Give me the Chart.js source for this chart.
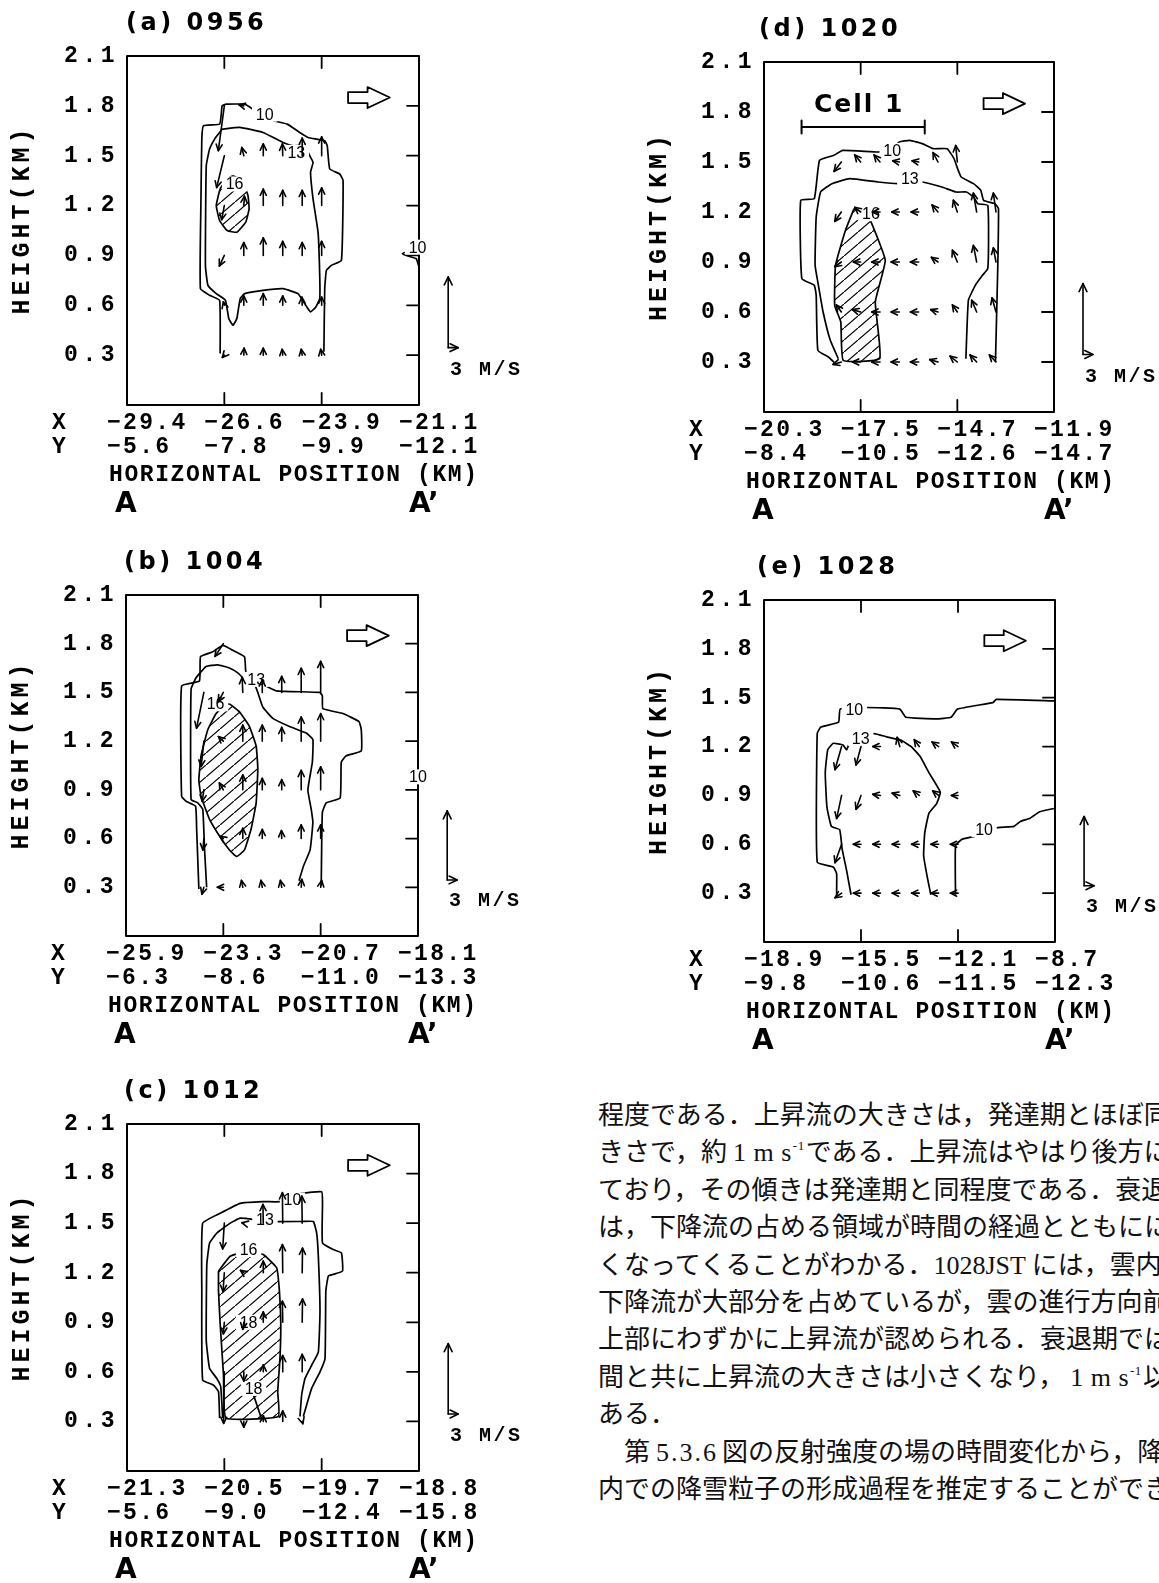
<!DOCTYPE html>
<html lang="ja">
<head>
<meta charset="utf-8">
<title>Vertical cross sections A–A'</title>
<script src="https://cdn.jsdelivr.net/npm/chart.js@4.4.1/dist/chart.umd.min.js"></script>
<style>
  html, body { margin: 0; padding: 0; background: #fff; }
  body { width: 1159px; height: 1583px; position: relative; overflow: hidden; }
  canvas { position: absolute; }
  #prose {
    position: absolute; left: 598px; top: 1094px; width: 561px; overflow: hidden;
    font-family: "Noto Sans CJK JP", sans-serif; font-size: 26px; line-height: 37.4px;
    color: #111; white-space: nowrap;
  }
  #prose div { height: 37.4px; }
  .lat { font-family: "Liberation Serif", serif; }
  .ms { margin: 0 1px 0 6px; letter-spacing: 0.5px; }
  .num { letter-spacing: 2px; margin: 0 4px 0 6px; }
  .ex { position: relative; top: -11px; font-size: 13px; margin-left: 1px; }
</style>
</head>
<body>
<div id="prose">
  <div>程度である．上昇流の大きさは，発達期とほぼ同</div>
  <div>きさで，約<span class="lat ms">1 m s<span class="ex">-1</span></span>である．上昇流はやはり後方に</div>
  <div>ており，その傾きは発達期と同程度である．衰退</div>
  <div>は，下降流の占める領域が時間の経過とともにに</div>
  <div>くなってくることがわかる．<span class="lat">1028JST</span> には，雲内</div>
  <div>下降流が大部分を占めているが，雲の進行方向前</div>
  <div>上部にわずかに上昇流が認められる．衰退期では</div>
  <div>間と共に上昇流の大きさは小さくなり，<span class="lat ms">1 m s<span class="ex">-1</span></span>以</div>
  <div>ある．</div>
  <div>　第<span class="lat num">5.3.6</span>図の反射強度の場の時間変化から，降</div>
  <div>内での降雪粒子の形成過程を推定することができ</div>
</div>
<script>
// ---- shared axes: distance along the section (km) and height (km) ----
const xTicks = [0, 3.5, 7.0, 10.5];
const yTicks = [0.3, 0.6, 0.9, 1.2, 1.5, 1.8, 2.1];

// ---- (a) 0956 ----
const aTitle = '(a) 0956';
const aRowX = ['−29.4', '−26.6', '−23.9', '−21.1'];
const aRowY = ['−5.6', '−7.8', '−9.9', '−12.1'];
const aC10 = [[7.08,0.32],[7.11,0.70],[7.17,0.81],[7.35,0.84],[7.71,0.87],[7.77,1.35],[7.65,1.39],[7.29,1.42],[7.20,1.56],[7.11,1.59],[6.51,1.61],[6.21,1.64],[5.76,1.69],[5.27,1.71],[5.01,1.73],[4.53,1.78],[4.23,1.81],[3.57,1.81],[3.42,1.80],[3.39,1.75],[3.33,1.69],[2.75,1.68],[2.69,1.60],[2.66,1.24],[2.64,0.70],[2.97,0.66],[3.33,0.63],[3.35,0.31]];
const aC10edge = [[10.5,0.95],[9.9,0.91],[10.4,0.88],[10.5,0.83]];
const aC13 = [[3.42,1.66],[4.05,1.67],[4.89,1.64],[5.61,1.58],[5.97,1.56],[6.39,1.56],[6.57,1.50],[6.69,1.46],[6.60,1.40],[6.69,1.24],[6.87,1.04],[6.93,0.78],[6.93,0.64],[6.79,0.59],[6.60,0.56],[6.39,0.61],[6.15,0.67],[5.61,0.70],[4.89,0.69],[4.23,0.67],[4.07,0.64],[3.95,0.52],[3.81,0.48],[3.66,0.52],[3.54,0.63],[3.21,0.67],[2.91,0.72],[2.82,0.84],[2.85,1.44],[2.97,1.54],[3.15,1.60],[3.33,1.64],[3.42,1.66]];
const aH16 = [[3.81,1.38],[4.15,1.35],[4.35,1.26],[4.39,1.18],[4.27,1.10],[3.95,1.04],[3.60,1.05],[3.33,1.11],[3.21,1.20],[3.35,1.30],[3.60,1.36],[3.81,1.38]];
// wind vectors: [x km, z km, u m/s, w m/s]
const aVec = [
  [3.5,1.8,-1.8,-1.9],[4.2,1.8,-1.5,0.05],
  [3.5,1.5,-2.3,-1.35],[4.2,1.5,-0.6,0.35],[4.9,1.5,0,0.5],[5.6,1.5,-0.1,0.5],[6.3,1.5,0,0.75],[7.0,1.5,0,0.8],
  [3.5,1.2,-0.8,-0.6],[4.2,1.2,0.2,0.4],[4.9,1.2,0,0.7],[5.6,1.2,0,0.65],[6.3,1.2,0,0.65],[7.0,1.2,0,0.75],
  [3.5,0.9,-1.5,-0.45],[4.2,0.9,0,0.55],[4.9,0.9,0,0.75],[5.6,0.9,0,0.6],[6.3,0.9,0,0.55],[7.0,0.9,0,0.6],
  [3.5,0.6,-0.3,0.15],[4.2,0.6,0,0.4],[4.9,0.6,0,0.5],[5.6,0.6,0,0.4],[6.3,0.6,-0.1,0.35],[7.0,0.6,0,0.35],
  [3.5,0.3,-0.6,-0.1],[4.2,0.3,0.1,0.3],[4.9,0.3,0,0.3],[5.6,0.3,-0.2,0.25],[6.3,0.3,-0.3,0.25],[7.0,0.3,-0.3,0.25]
];
const aLabels = [['10',4.95,1.75],['13',6.09,1.52],['16',3.87,1.33],['10',10.45,0.95]];

// ---- (b) 1004 ----
const bTitle = '(b) 1004';
const bRowX = ['−25.9', '−23.3', '−20.7', '−18.1'];
const bRowY = ['−6.3', '−8.6', '−11.0', '−13.3'];
const bC10 = [[2.62,0.29],[2.54,0.66],[2.50,0.80],[2.16,0.83],[2.00,0.86],[2.00,1.54],[2.64,1.57],[2.68,1.72],[3.12,1.75],[3.48,1.79],[3.84,1.76],[4.26,1.72],[4.30,1.64],[4.34,1.60],[4.56,1.58],[4.74,1.59],[4.92,1.55],[5.40,1.51],[6.96,1.50],[7.06,1.48],[7.08,1.40],[7.80,1.37],[8.38,1.32],[8.46,1.27],[8.46,1.14],[7.92,1.11],[7.74,1.07],[7.70,0.85],[7.20,0.82],[7.06,0.76],[7.02,0.31]];
const bC13 = [[2.90,0.30],[2.82,0.55],[2.76,0.78],[2.58,0.82],[2.34,0.84],[2.34,1.52],[2.52,1.59],[2.88,1.66],[3.30,1.67],[3.72,1.65],[4.02,1.62],[4.32,1.57],[4.62,1.55],[4.74,1.50],[4.92,1.41],[5.28,1.34],[5.88,1.29],[6.48,1.25],[6.72,1.21],[6.70,1.07],[6.54,0.90],[6.66,0.78],[6.72,0.70],[6.62,0.53],[6.38,0.43],[6.22,0.34]];
const bH16 = [[3.72,1.43],[4.08,1.38],[4.44,1.29],[4.68,1.17],[4.74,1.03],[4.68,0.82],[4.50,0.66],[4.26,0.53],[3.98,0.49],[3.72,0.53],[3.42,0.60],[3.00,0.72],[2.70,0.86],[2.62,0.96],[2.70,1.11],[2.94,1.27],[3.24,1.37],[3.54,1.42],[3.72,1.43]];
const bVec = [
  [3.5,1.8,-2.5,-0.55],
  [2.8,1.5,-2.2,-1.55],[3.5,1.5,-1.5,-0.4],[4.2,1.5,-0.2,0.65],[4.9,1.5,0,0.55],[5.6,1.5,0,0.7],[6.3,1.5,0,1.05],[7.0,1.5,0,1.35],
  [2.8,1.2,-0.8,-1.1],[3.5,1.2,-1.5,0.2],[4.2,1.2,0,0.7],[4.9,1.2,0,0.7],[5.6,1.2,0,0.6],[6.3,1.2,0,1.05],[7.0,1.2,0,1.2],
  [2.8,0.9,-0.5,-0.5],[3.5,0.9,-1.2,0.3],[4.2,0.9,0,0.65],[4.9,0.9,0,0.5],[5.6,0.9,0,0.45],[6.3,0.9,0,0.85],[7.0,0.9,0,1.0],
  [2.8,0.6,-0.3,-0.5],[3.5,0.6,-1.0,0.1],[4.2,0.6,0,0.45],[4.9,0.6,0,0.4],[5.6,0.6,-0.1,0.35],[6.3,0.6,0,0.6],[7.0,0.6,0,0.6],
  [2.8,0.3,-0.6,-0.3],[3.5,0.3,-1.8,0],[4.2,0.3,-0.4,0.3],[4.9,0.3,-0.4,0.3],[5.6,0.3,-0.4,0.3],[6.3,0.3,0.2,0.35],[7.0,0.3,0.3,0.3]
];
const bLabels = [['16',3.22,1.43],['13',4.68,1.58],['10',10.5,0.98]];

// ---- (c) 1012 ----
const cTitle = '(c) 1012';
const cRowX = ['−21.3', '−20.5', '−19.7', '−18.8'];
const cRowY = ['−5.6', '−9.0', '−12.4', '−15.8'];
const cC10 = [[3.33,0.32],[3.29,0.48],[3.11,0.52],[2.72,0.55],[2.69,1.09],[2.72,1.50],[3.35,1.56],[4.07,1.62],[4.90,1.63],[5.50,1.63],[5.86,1.66],[6.28,1.68],[7.00,1.69],[7.03,1.62],[7.03,1.38],[7.42,1.34],[7.71,1.32],[7.75,1.21],[7.42,1.19],[7.24,1.18],[7.15,1.09],[7.12,0.68],[6.94,0.60],[6.64,0.50],[6.46,0.40],[6.34,0.33]];
const cC13 = [[3.44,0.32],[3.37,0.51],[3.23,0.56],[2.97,0.62],[2.85,0.79],[2.87,1.25],[2.97,1.38],[3.23,1.44],[3.71,1.50],[4.07,1.53],[4.66,1.52],[5.14,1.51],[6.28,1.51],[6.70,1.51],[6.82,1.44],[6.88,1.30],[6.94,0.97],[6.88,0.72],[6.64,0.64],[6.40,0.56],[6.28,0.46],[6.22,0.33]];
const cC18 = [[4.55,0.46],[4.85,0.31]];
const cH16 = [[3.29,1.21],[3.71,1.30],[4.31,1.33],[4.90,1.31],[5.38,1.23],[5.48,1.09],[5.53,0.89],[5.50,0.68],[5.42,0.48],[5.44,0.33],[3.56,0.32],[3.47,0.58],[3.35,0.89],[3.29,1.09],[3.29,1.21]];
const cVec = [
  [3.5,1.5,-0.5,-1.1],[4.2,1.5,-0.6,0.02],[4.9,1.5,-0.1,0.8],[5.6,1.5,-0.1,1.3],[6.3,1.5,-0.1,1.15],
  [3.5,1.2,-0.4,-0.8],[4.2,1.2,-1.0,0.1],[4.9,1.2,0,0.5],[5.6,1.2,-0.1,1.2],[6.3,1.2,0.1,1.05],
  [3.5,0.9,-0.3,-0.5],[4.2,0.9,-0.3,-0.3],[4.9,0.9,0,0.45],[5.6,0.9,-0.1,0.9],[6.3,0.9,0.1,1.0],
  [3.5,0.6,-0.2,-2.2],[4.2,0.6,0,-0.4],[4.9,0.6,0,0.3],[5.6,0.6,0,0.7],[6.3,0.6,0,0.75],
  [4.2,0.3,0,-0.25],[4.9,0.3,0,0.25],[5.6,0.3,0,0.45],[6.3,0.3,0.2,-0.1]
];
const cLabels = [['13',4.96,1.52],['16',4.37,1.34],['10',5.95,1.64],['18',4.37,0.90],['18',4.55,0.50]];

// ---- (d) 1020 ----
const dTitle = '(d) 1020';
const dRowX = ['−20.3', '−17.5', '−14.7', '−11.9'];
const dRowY = ['−8.4', '−10.5', '−12.6', '−14.7'];
const dC10 = [[2.59,0.29],[2.33,0.33],[1.95,0.37],[1.89,0.70],[1.82,0.76],[1.37,0.80],[1.33,1.27],[1.82,1.28],[2.01,1.51],[2.53,1.54],[2.85,1.57],[4.13,1.56],[4.51,1.57],[4.90,1.62],[5.28,1.63],[5.73,1.61],[6.12,1.58],[6.63,1.58],[6.88,1.52],[7.01,1.46],[7.14,1.41],[7.59,1.37],[7.85,1.33],[7.95,1.27],[8.36,1.25],[8.49,1.22],[8.46,0.84],[8.38,0.30]];
const dC13 = [[2.69,0.32],[2.40,0.43],[2.14,0.60],[1.97,0.76],[1.85,0.88],[1.89,1.17],[2.05,1.32],[2.46,1.37],[3.10,1.40],[4.13,1.38],[4.83,1.37],[5.73,1.38],[6.44,1.35],[6.95,1.32],[7.33,1.32],[7.59,1.29],[7.74,1.25],[8.10,1.24],[8.13,1.05],[8.10,0.86],[7.91,0.82],[7.65,0.76],[7.40,0.67],[7.31,0.32]];
const dH16 = [[3.26,1.22],[3.62,1.20],[3.85,1.15],[4.39,0.91],[4.03,0.66],[4.19,0.32],[2.87,0.31],[2.78,0.54],[2.56,0.64],[2.59,0.88],[2.95,1.09],[3.26,1.22]];
const dVec = [
  [2.8,1.5,-2.2,-0.4],[3.5,1.5,-1.8,0.3],[4.2,1.5,-1.8,0.3],[4.9,1.5,-2.0,0.05],[5.6,1.5,-2.0,0.05],[6.3,1.5,-1.5,0.4],[7.0,1.5,-0.5,0.7],
  [2.8,1.2,-2.0,-0.4],[3.5,1.2,-1.8,0.2],[4.2,1.2,-2.3,0],[4.9,1.2,-2.3,0],[5.6,1.2,-2.3,0],[6.3,1.2,-1.8,0.3],[7.0,1.2,-1.2,0.5],[7.7,1.2,-1.0,0.8],[8.4,1.2,-0.8,0.8],
  [2.8,0.9,-2.0,-0.2],[3.5,0.9,-2.2,0],[4.2,0.9,-2.5,0],[4.9,0.9,-2.5,0],[5.6,0.9,-2.5,0],[6.3,0.9,-2.0,0.2],[7.0,0.9,-1.5,0.5],[7.7,0.9,-1.0,0.7],[8.4,0.9,-0.8,0.6],
  [2.8,0.6,-1.5,0.3],[3.5,0.6,-2.5,0.1],[4.2,0.6,-2.5,0],[4.9,0.6,-2.5,0],[5.6,0.6,-2.5,0],[6.3,0.6,-2.2,0.1],[7.0,0.6,-1.5,0.3],[7.7,0.6,-1.5,0.5],[8.4,0.6,-1.2,0.6],
  [2.8,0.3,-2.5,-0.1],[3.5,0.3,-2.5,0],[4.2,0.3,-2.5,0],[4.9,0.3,-2.5,0],[5.6,0.3,-2.5,0],[6.3,0.3,-2.5,0.1],[7.0,0.3,-2.2,0.25],[7.7,0.3,-2.0,0.3],[8.4,0.3,-2.0,0.3]
];
const dLabels = [['10',4.64,1.57],['13',5.28,1.40],['16',3.87,1.19]];
const dCell = { text: 'Cell 1', x0: 1.36, x1: 5.82, z: 1.71 };

// ---- (e) 1028 ----
const eTitle = '(e) 1028';
const eRowX = ['−18.9', '−15.5', '−12.1', '−8.7'];
const eRowY = ['−9.8', '−10.6', '−11.5', '−12.3'];
const eC10a = [[10.5,1.48],[8.38,1.49],[8.26,1.47],[6.98,1.43],[6.75,1.38],[6.21,1.37],[5.12,1.38],[4.90,1.43],[3.71,1.44],[2.75,1.43],[2.69,1.35],[2.05,1.32],[1.92,1.28],[1.92,0.49],[2.50,0.46],[2.62,0.42],[2.62,0.29]];
const eC10b = [[6.91,0.29],[6.91,0.59],[7.13,0.63],[7.62,0.65],[8.32,0.70],[9.02,0.71],[9.25,0.74],[9.60,0.76],[9.95,0.80],[10.46,0.82]];
const eC13 = [[3.14,0.29],[2.98,0.44],[2.82,0.57],[2.73,0.69],[2.43,0.71],[2.27,0.83],[2.21,1.04],[2.30,1.18],[2.50,1.22],[2.85,1.21],[2.98,1.18],[3.14,1.24],[3.97,1.28],[4.42,1.26],[4.93,1.24],[5.31,1.20],[5.63,1.14],[5.95,1.04],[6.36,0.92],[6.23,0.85],[5.95,0.79],[5.80,0.67],[5.76,0.53],[5.89,0.40],[6.02,0.29]];
const eVec = [
  [2.8,1.2,-2.0,-1.0],[3.5,1.2,-1.5,-0.8],[4.2,1.2,-2.3,0],[4.9,1.2,-0.8,0.4],[5.6,1.2,-1.5,0.3],[6.3,1.2,-2.0,0.2],[7.0,1.2,-2.0,0.2],
  [2.8,0.9,-1.5,-1.0],[3.5,0.9,-1.5,-0.6],[4.2,0.9,-2.3,0.05],[4.9,0.9,-2.3,0.1],[5.6,0.9,-1.8,0.2],[6.3,0.9,-1.8,0.2],[7.0,0.9,-2.0,0],
  [2.8,0.6,-2.0,-0.8],[3.5,0.6,-2.3,0],[4.2,0.6,-2.3,0],[4.9,0.6,-2.3,0],[5.6,0.6,-2.3,0],[6.3,0.6,-2.3,0],[7.0,0.6,-2.3,0],
  [2.8,0.3,-2.0,-0.2],[3.5,0.3,-2.3,0],[4.2,0.3,-2.3,0],[4.9,0.3,-2.3,0],[5.6,0.3,-2.3,0],[6.3,0.3,-2.3,0],[7.0,0.3,-2.3,0]
];
const eLabels = [['10',3.26,1.43],['13',3.49,1.25],['10',7.94,0.69]];

// reference vector (3 m/s) and storm-motion arrow, in axis units
const refVector = { x: 11.55, z: 0.345, u: 3, w: 3, text: '3 M/S' };
const motionArrow = { x0: 7.95, xNeck: 8.65, x1: 9.45, z: 1.85 };
// km of section per m/s of wind, horizontal and vertical
const U_KM = 0.12, W_KM = 0.142;

// ---- layout of the five panels on the page ----
const panels = [
  { L:127, T:56,   W:292, H:349, tdx:-1, title:aTitle, rowX:aRowX, rowY:aRowY, lines:[aC10, aC10edge, aC13], hatch:[aH16], vec:aVec, labels:aLabels },
  { L:126, T:595,  W:292, H:341, tdx:-2, title:bTitle, rowX:bRowX, rowY:bRowY, lines:[bC10, bC13], hatch:[bH16], vec:bVec, labels:bLabels },
  { L:127, T:1124, W:292, H:347, tdx:-3, title:cTitle, rowX:cRowX, rowY:cRowY, lines:[cC10, cC13, cC18], hatch:[cH16], vec:cVec, labels:cLabels },
  { L:764, T:62,   W:290, H:350, tdx:-5, title:dTitle, rowX:dRowX, rowY:dRowY, lines:[dC10, dC13], hatch:[dH16], vec:dVec, labels:dLabels, cell:dCell },
  { L:764, T:600,  W:291, H:342, tdx:-7, title:eTitle, rowX:eRowX, rowY:eRowY, lines:[eC10a, eC10b, eC13], hatch:[], vec:eVec, labels:eLabels }
];

const PAD = { left: 130, top: 70, right: 105, bottom: 125 };
const MONO = '"Liberation Mono", "DejaVu Sans Mono", monospace';
const HEAVY = '"DejaVu Sans", "Liberation Sans", sans-serif';

function hatchPattern() {
  const t = document.createElement('canvas');
  t.width = 14; t.height = 12;
  const g = t.getContext('2d');
  g.strokeStyle = '#000'; g.lineWidth = 1.2;
  g.beginPath(); g.moveTo(-1, 12 + 12 / 14); g.lineTo(15, -12 / 14); g.stroke();
  return g.createPattern(t, 'repeat');
}

function text(ctx, s, x, y, font, spacing, align, baseline) {
  ctx.save();
  ctx.font = font;
  ctx.letterSpacing = spacing + 'px';
  ctx.textAlign = align || 'left';
  ctx.textBaseline = baseline || 'alphabetic';
  ctx.fillStyle = '#000';
  ctx.fillText(s, x, y);
  ctx.restore();
}

function arrow(ctx, x0, y0, x1, y1, head) {
  ctx.beginPath(); ctx.moveTo(x0, y0); ctx.lineTo(x1, y1); ctx.stroke();
  const a = Math.atan2(y1 - y0, x1 - x0);
  ctx.beginPath();
  ctx.moveTo(x1 - head * Math.cos(a - 0.45), y1 - head * Math.sin(a - 0.45));
  ctx.lineTo(x1, y1);
  ctx.lineTo(x1 - head * Math.cos(a + 0.45), y1 - head * Math.sin(a + 0.45));
  ctx.stroke();
}

// letter spacing for the typewriter-style tick labels
const spacingPlugin = {
  id: 'tickSpacing',
  beforeDraw(chart) {
    chart.ctx.letterSpacing = '2.3px';
    const ys = chart.scales.y;
    if (ys && !ys.__spaced) {
      const orig = ys.drawLabels;
      ys.drawLabels = function (area) {
        const c = this.ctx, prev = c.letterSpacing;
        c.letterSpacing = '4.5px';
        orig.call(this, area);
        c.letterSpacing = prev;
      };
      ys.__spaced = true;
    }
  }
};

// frame, inner ticks, wind vectors, labels and annotations of one panel
const panelPlugin = {
  id: 'panelDecor',
  afterDraw(chart) {
    const p = chart.options.plugins.panelDecor;
    const ctx = chart.ctx, ca = chart.chartArea;
    const xs = chart.scales.x, ys = chart.scales.y;
    const px = v => xs.getPixelForValue(v), py = v => ys.getPixelForValue(v);
    ctx.save();
    ctx.strokeStyle = '#000'; ctx.fillStyle = '#000';
    ctx.lineCap = 'round'; ctx.lineJoin = 'round';

    // frame
    ctx.lineWidth = 2;
    ctx.strokeRect(ca.left, ca.top, ca.right - ca.left, ca.bottom - ca.top);
    // inner tick marks
    ctx.lineWidth = 1.8;
    ctx.beginPath();
    xTicks.slice(1, -1).forEach(v => {
      const x = px(v);
      ctx.moveTo(x, ca.top); ctx.lineTo(x, ca.top + 12);
      ctx.moveTo(x, ca.bottom); ctx.lineTo(x, ca.bottom - 12);
    });
    yTicks.slice(0, -1).forEach(v => {
      const y = py(v);
      ctx.moveTo(ca.right, y); ctx.lineTo(ca.right - 12, y);
    });
    ctx.stroke();

    // contour labels on a white patch
    const labFont = '16px "Liberation Sans", sans-serif';
    p.labels.forEach(([s, x, z]) => {
      ctx.font = labFont;
      const w = ctx.measureText(s).width;
      ctx.fillStyle = '#fff';
      ctx.fillRect(px(x) - w / 2 - 1.5, py(z) - 7.5, w + 3, 15);
      text(ctx, s, px(x), py(z) + 1, labFont, 0, 'center', 'middle');
    });

    // wind vectors
    ctx.lineWidth = 1.6; ctx.strokeStyle = '#000';
    p.vec.forEach(([x, z, u, w]) => {
      arrow(ctx, px(x), py(z), px(x + u * U_KM), py(z + w * W_KM), 7);
    });

    // reference vector
    const r = refVector;
    arrow(ctx, px(r.x), py(r.z), px(r.x), py(r.z + r.w * W_KM), 9);
    arrow(ctx, px(r.x), py(r.z), px(r.x + r.u * U_KM), py(r.z), 9);
    text(ctx, r.text, ca.right + 31, ca.bottom - 30, 'bold 20px ' + MONO, 2.5, 'left');

    // storm motion (hollow arrow)
    const m = motionArrow, yc = py(m.z);
    ctx.lineWidth = 1.8;
    ctx.beginPath();
    ctx.moveTo(px(m.x0), yc - 5.5); ctx.lineTo(px(m.xNeck), yc - 5.5); ctx.lineTo(px(m.xNeck), yc - 10.5);
    ctx.lineTo(px(m.x1), yc); ctx.lineTo(px(m.xNeck), yc + 10.5); ctx.lineTo(px(m.xNeck), yc + 5.5);
    ctx.lineTo(px(m.x0), yc + 5.5); ctx.closePath(); ctx.stroke();

    // cell bracket
    if (p.cell) {
      const c = p.cell, yb = py(c.z);
      ctx.lineWidth = 2;
      ctx.beginPath();
      ctx.moveTo(px(c.x0), yb); ctx.lineTo(px(c.x1), yb);
      ctx.moveTo(px(c.x0), yb - 6.5); ctx.lineTo(px(c.x0), yb + 6.5);
      ctx.moveTo(px(c.x1), yb - 6.5); ctx.lineTo(px(c.x1), yb + 6.5);
      ctx.stroke();
      text(ctx, c.text, (px(c.x0) + px(c.x1)) / 2 - 4, yb - 15, 'bold 25px ' + HEAVY, 2, 'center');
    }

    // panel title
    text(ctx, p.title, ca.left + p.tdx, ca.top - 26, 'bold 24px ' + HEAVY, 3.5, 'left');

    // axis titles and row headers
    ctx.save();
    ctx.translate(ca.left - 104, (ca.top + ca.bottom) / 2 - 9);
    ctx.rotate(-Math.PI / 2);
    text(ctx, 'HEIGHT(KM)', 2, 0, 'bold 25px ' + MONO, 4, 'center', 'middle');
    ctx.restore();
    text(ctx, 'X', ca.left - 75, ca.bottom + 18.5, 'bold 23px ' + MONO, 0, 'left', 'middle');
    text(ctx, 'Y', ca.left - 75, ca.bottom + 42.5, 'bold 23px ' + MONO, 0, 'left', 'middle');
    text(ctx, 'HORIZONTAL POSITION (KM)', ca.left - 18, ca.bottom + 75.5, 'bold 23px ' + MONO, 1.6, 'left');
    text(ctx, 'A', ca.left - 12, ca.bottom + 107, 'bold 28px ' + HEAVY, 0, 'left');
    text(ctx, 'A\u2019', ca.right - 10, ca.bottom + 107, 'bold 28px ' + HEAVY, 0, 'left');
    ctx.restore();
  }
};

function buildPanel(p) {
  const cv = document.createElement('canvas');
  const cw = p.W + PAD.left + PAD.right, ch = p.H + PAD.top + PAD.bottom;
  cv.width = cw; cv.height = ch;
  cv.style.width = cw + 'px'; cv.style.height = ch + 'px';
  cv.style.left = (p.L - PAD.left) + 'px';
  cv.style.top = (p.T - PAD.top) + 'px';
  document.body.appendChild(cv);

  const pattern = hatchPattern();
  const datasets = [];
  p.hatch.forEach(poly => datasets.push({
    data: poly.map(([x, y]) => ({ x, y })),
    borderColor: '#000', borderWidth: 1.7, backgroundColor: pattern,
    fill: 'shape', pointRadius: 0, tension: 0.12
  }));
  p.lines.forEach(line => datasets.push({
    data: line.map(([x, y]) => ({ x, y })),
    borderColor: '#000', borderWidth: 1.7, fill: false, pointRadius: 0, tension: 0.12
  }));

  const tickFont = { family: MONO, size: 23, weight: 'bold', lineHeight: '24px' };
  new Chart(cv, {
    type: 'line',
    data: { datasets },
    options: {
      responsive: false, animation: false, devicePixelRatio: 1, events: [],
      layout: { padding: { left: 0, top: PAD.top, right: PAD.right, bottom: 0 } },
      plugins: {
        legend: { display: false }, tooltip: { enabled: false }, title: { display: false },
        panelDecor: p
      },
      scales: {
        x: {
          type: 'linear', position: 'bottom', min: 0, max: 10.5,
          afterFit: s => { s.height = PAD.bottom; },
          afterBuildTicks: s => { s.ticks = xTicks.map(v => ({ value: v })); },
          grid: { display: false, drawTicks: false }, border: { display: false },
          ticks: {
            align: 'start', labelOffset: -20, padding: 6.5, autoSkip: false, maxRotation: 0,
            color: '#000', font: tickFont,
            callback: (v, i) => [p.rowX[i], p.rowY[i]]
          }
        },
        y: {
          type: 'linear', min: 0, max: 2.1,
          afterFit: s => { s.width = PAD.left; },
          afterBuildTicks: s => { s.ticks = yTicks.map(v => ({ value: v })); },
          grid: { display: false, drawTicks: false }, border: { display: false },
          ticks: { padding: 8, color: '#000', font: tickFont, callback: v => Number(v).toFixed(1) }
        }
      }
    },
    plugins: [spacingPlugin, panelPlugin]
  });
}

panels.forEach(buildPanel);
</script>
</body>
</html>
